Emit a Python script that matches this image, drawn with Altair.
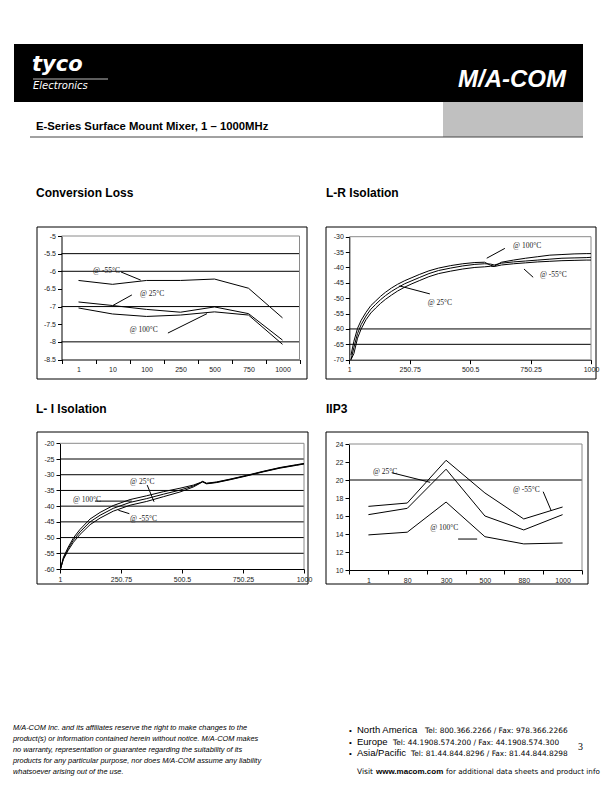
import altair as alt
import pandas as pd

# ---------------- page / canvas ----------------
W, H = 596, 776
OFF = 8


def cx(x):
    return x - OFF


def cy(y):
    return y - OFF


SANS = "Liberation Sans"
SERIF = "Liberation Serif"
WIDE = "DejaVu Sans"
GRAY = "#8a8a8a"

# ---------------- data ----------------
# Conversion Loss (dB) vs frequency category
cl_freq = ["1", "10", "100", "250", "500", "750", "1000"]
cl_m55 = [-6.26, -6.37, -6.26, -6.26, -6.22, -6.48, -7.32]
cl_25 = [-6.87, -6.97, -7.08, -7.16, -7.01, -7.20, -7.95]
cl_100 = [-7.04, -7.21, -7.28, -7.24, -7.15, -7.24, -8.07]
cl_yticks = [-5, -5.5, -6, -6.5, -7, -7.5, -8, -8.5]
cl_grid = [-5.5, -6, -7, -8]

# L-R Isolation (dB) vs frequency (MHz)
lr_x = [8, 20, 35, 50, 70, 90, 110, 130, 150, 175, 200, 230, 260, 290, 330, 370,
        420, 470, 520, 560, 585, 600, 630, 680, 730, 780, 830, 880, 930, 980, 1000]
lr_100 = [-68.5, -64.0, -59.8, -57.2, -54.6, -52.4, -50.9, -49.4, -48.1, -46.7, -45.5,
          -44.3, -43.3, -42.3, -41.1, -40.2, -39.4, -38.8, -38.4, -38.3, -39.3, -39.6,
          -38.3, -37.6, -37.0, -36.5, -36.0, -35.8, -35.6, -35.5, -35.5]
lr_25 = [-70.0, -66.0, -61.5, -58.6, -55.8, -53.6, -52.0, -50.5, -49.2, -47.8, -46.6,
         -45.3, -44.3, -43.3, -42.0, -41.0, -40.2, -39.5, -39.0, -38.8, -38.9, -39.2,
         -38.6, -38.2, -37.9, -37.6, -37.3, -37.0, -36.9, -36.8, -36.7]
lr_m55 = [-70.0, -68.0, -63.0, -60.0, -57.0, -54.8, -53.2, -51.7, -50.4, -49.0, -47.7,
          -46.4, -45.3, -44.3, -43.0, -42.0, -41.2, -40.5, -40.0, -39.8, -39.6, -39.7,
          -39.2, -38.8, -38.5, -38.2, -38.0, -37.8, -37.7, -37.6, -37.6]
lr_yticks = [-30, -35, -40, -45, -50, -55, -60, -65, -70]
lr_grid = [-60, -65]
lr_xticks = [1, 250.75, 500.5, 750.25, 1000]

# L-I Isolation (dB) vs frequency (MHz)
li_x = [3, 15, 35, 56, 83, 124, 165, 219, 288, 356, 424, 492, 547, 575, 585, 601,
        642, 697, 765, 833, 902, 970, 1000]
li_100 = [-60.0, -56.3, -53.0, -50.1, -47.4, -44.1, -42.0, -39.8, -37.9, -36.7, -35.4,
          -34.3, -33.3, -32.5, -32.1, -32.7, -32.3, -31.4, -30.2, -28.9, -27.7, -26.8, -26.4]
li_25 = [-60.0, -56.6, -53.5, -50.8, -48.2, -45.0, -42.9, -40.7, -38.8, -37.6, -36.2,
         -34.9, -33.6, -32.6, -32.2, -32.8, -32.4, -31.5, -30.3, -29.0, -27.8, -26.9, -26.5]
li_m55 = [-60.0, -56.9, -54.0, -51.5, -49.0, -45.9, -43.8, -41.6, -39.7, -38.5, -37.0,
          -35.5, -33.9, -32.7, -32.3, -32.9, -32.5, -31.6, -30.4, -29.1, -27.9, -27.0, -26.6]
li_yticks = [-20, -25, -30, -35, -40, -45, -50, -55, -60]
li_grid = [-25, -30, -35, -40, -45, -50, -55]
li_xticks = [1, 250.75, 500.5, 750.25, 1000]

# IIP3 (dBm) vs frequency category
iip3_freq = ["1", "80", "300", "500", "880", "1000"]
iip3_m55 = [17.07, 17.44, 22.19, 18.56, 15.67, 17.00]
iip3_25 = [16.15, 16.85, 21.20, 16.00, 14.45, 16.15]
iip3_100 = [13.90, 14.20, 17.55, 13.70, 12.90, 13.00]
iip3_yticks = [10, 12, 14, 16, 18, 20, 22, 24]
iip3_grid = [20]

series_names = ["-55°C", "25°C", "100°C"]

# annotations in chart units: (text, x, y) ; leaders: (x1, y1, x2, y2)
# band charts use category-index units (0..n)
cl_notes = [("@ -55°C", 0.93, -5.98), ("@ 25°C", 2.31, -6.64), ("@ 100°C", 2.01, -7.66)]
cl_leaders = [(1.75, -6.02, 2.33, -6.25), (2.07, -6.67, 1.51, -6.97), (3.13, -7.75, 4.28, -7.20)]
lr_notes = [("@ 100°C", 678, -33.0), ("@ -55°C", 789, -42.5), ("@ 25°C", 325, -51.5)]
lr_leaders = [(644, -33.8, 569, -37.0), (723, -40.5, 761, -43.2), (334, -48.6, 208, -46.0)]
li_notes = [("@ 25°C", 288, -32.2), ("@ 100°C", 54, -38.0), ("@ -55°C", 288, -44.1)]
li_leaders = [(358, -33.3, 386, -38.6), (144, -38.4, 295, -38.4), (285, -42.4, 240, -41.3)]
iip3_notes = [("@ 25°C", 0.62, 20.92), ("@ -55°C", 4.22, 18.89), ("@ 100°C", 2.09, 14.67)]
iip3_leaders = [(1.10, 20.81, 2.09, 19.74), (5.00, 18.70, 5.21, 16.56), (2.81, 13.44, 3.30, 13.44)]

# ---------------- helpers ----------------
dummy = pd.DataFrame({"a": [0]})

AX = dict(domainColor="black", tickColor="black", tickSize=4, tickWidth=1, domainWidth=1,
          labelFont=SANS, labelFontSize=7, labelColor="#222222", labelPadding=2,
          grid=False, title="", labelOverlap=False, labelFlush=False)


def txt(s, x, y, size, font=SANS, weight="normal", style="normal", color="black",
        align="left", baseline="alphabetic"):
    return alt.Chart(dummy).mark_text(
        text=s, font=font, fontSize=size, fontWeight=weight, fontStyle=style,
        color=color, align=align, baseline=baseline
    ).encode(x=alt.value(cx(x)), y=alt.value(cy(y)))


def rect(x0, y0, x1, y1, fill=None, stroke=None):
    kw = {}
    if fill is not None:
        kw["fill"] = fill
    else:
        kw["fillOpacity"] = 0
    if stroke is not None:
        kw["stroke"] = stroke
        kw["strokeWidth"] = 1
    return alt.Chart(dummy).mark_rect(**kw).encode(
        x=alt.value(cx(x0)), x2=alt.value(cx(x1)), y=alt.value(cy(y0)), y2=alt.value(cy(y1)))


def hline(x0, x1, y, color="black", w=1):
    return alt.Chart(dummy).mark_rule(color=color, strokeWidth=w).encode(
        x=alt.value(cx(x0)), x2=alt.value(cx(x1)), y=alt.value(cy(y)))


def vline(x, y0, y1, color="black", w=1):
    return alt.Chart(dummy).mark_rule(color=color, strokeWidth=w).encode(
        x=alt.value(cx(x)), y=alt.value(cy(y0)), y2=alt.value(cy(y1)))


def long_df(xs, ys_list):
    rows = []
    for name, ys in zip(series_names, ys_list):
        for xv, yv in zip(xs, ys):
            rows.append({"x": xv, "v": yv, "s": name})
    return pd.DataFrame(rows)


def panel(title, tpos, frame, plot, xkind, xinfo, ys_list, ydom, yticks, grid, notes, leaders):
    x0, ytop, x1, ybot = plot
    layers = []
    layers.append(txt(title, tpos[0], tpos[1], 12, weight="bold"))
    layers.append(rect(*frame, stroke="black"))
    ys = alt.Scale(domain=ydom, range=[cy(ybot), cy(ytop)], nice=False, zero=False)
    yaxis = alt.Axis(orient="left", offset=-cx(x0), values=yticks,
                     labelExpr="'' + datum.value", **AX)
    xoff = cy(ybot) - H
    if xkind == "band":
        cats = xinfo
        n = len(cats)
        xs = alt.Scale(type="band", domain=cats, range=[cx(x0), cx(x1)],
                       paddingInner=0, paddingOuter=0)
        xaxis = alt.Axis(orient="bottom", offset=xoff, tickBand="extent", labelAngle=0, **AX)
        xenc = alt.X("x:N", scale=xs, axis=xaxis, bandPosition=0.5)
        qs = alt.Scale(domain=[0, n], range=[cx(x0), cx(x1)], nice=False, zero=False)
        df = long_df(cats, ys_list)
    else:
        xvals, xticks = xinfo
        xs = alt.Scale(domain=[1, 1000], range=[cx(x0), cx(x1)], nice=False, zero=False)
        xaxis = alt.Axis(orient="bottom", offset=xoff, values=xticks,
                         labelExpr="'' + datum.value", **AX)
        xenc = alt.X("x:Q", scale=xs, axis=xaxis)
        qs = xs
        df = long_df(xvals, ys_list)

    # gridlines
    layers.append(alt.Chart(pd.DataFrame({"g": grid})).mark_rule(color="black", strokeWidth=1).encode(
        y=alt.Y("g:Q", scale=ys, axis=None), x=alt.value(cx(x0)), x2=alt.value(cx(x1))))
    # plot-area border (top / right)
    layers.append(hline(x0, x1, ytop, color=GRAY))
    layers.append(vline(x1, ytop, ybot, color=GRAY))
    # data lines
    layers.append(alt.Chart(df).mark_line(color="black", strokeWidth=1).encode(
        x=xenc, y=alt.Y("v:Q", scale=ys, axis=yaxis), detail="s:N"))
    # annotation text
    ndf = pd.DataFrame({"t": [t for t, _, _ in notes], "nx": [a for _, a, _ in notes],
                        "ny": [b for _, _, b in notes]})
    layers.append(alt.Chart(ndf).mark_text(font=SERIF, fontSize=7.5, align="left",
                                           baseline="middle", color="#222222").encode(
        x=alt.X("nx:Q", scale=qs, axis=None), y=alt.Y("ny:Q", scale=ys, axis=None), text="t:N"))
    ldf = pd.DataFrame({"a": [l[0] for l in leaders], "b": [l[1] for l in leaders],
                        "c": [l[2] for l in leaders], "d": [l[3] for l in leaders]})
    layers.append(alt.Chart(ldf).mark_rule(color="black", strokeWidth=1).encode(
        x=alt.X("a:Q", scale=qs, axis=None), y=alt.Y("b:Q", scale=ys, axis=None),
        x2="c:Q", y2="d:Q"))
    return layers


layers = []

# ---------------- header ----------------
layers.append(rect(14, 44, 583, 102, fill="black"))
layers.append(txt("tyco", 32, 71, 21, font=WIDE, weight="bold", style="italic", color="white"))
layers.append(hline(33, 108, 79, color="#bbbbbb"))
layers.append(txt("Electronics", 33, 89, 10, font=WIDE, style="italic", color="white"))
layers.append(txt("M/A-COM", 458, 87, 24, weight="bold", style="italic", color="white"))
layers.append(rect(443, 102, 583, 137, fill="#c0c0c0"))
layers.append(txt("E-Series Surface Mount Mixer, 1 \u2013 1000MHz", 36, 130, 11.3, weight="bold"))
layers.append(hline(30, 583, 137, color="#444444"))

# ---------------- panels ----------------
layers += panel("Conversion Loss", (36, 197), (37, 227, 307, 379), (61.5, 236, 299.5, 359.5),
                "band", cl_freq, [cl_m55, cl_25, cl_100], [-8.5, -5], cl_yticks, cl_grid,
                cl_notes, cl_leaders)
layers += panel("L-R Isolation", (326, 197), (326, 227, 596, 379), (349.3, 236.7, 591, 359.7),
                "quant", (lr_x, lr_xticks), [lr_m55, lr_25, lr_100], [-70, -30], lr_yticks, lr_grid,
                lr_notes, lr_leaders)
layers += panel("L- I Isolation", (36, 413), (37, 432, 308, 584), (60, 443.3, 304, 569),
                "quant", (li_x, li_xticks), [li_m55, li_25, li_100], [-60, -20], li_yticks, li_grid,
                li_notes, li_leaders)
layers += panel("IIP3", (326, 413), (326, 432, 588, 584), (349, 444, 582, 570),
                "band", iip3_freq, [iip3_m55, iip3_25, iip3_100], [10, 24], iip3_yticks, iip3_grid,
                iip3_notes, iip3_leaders)

# ---------------- footer ----------------
disclaimer = [
    "M/A-COM Inc. and its affiliates reserve the right to make changes to the",
    "product(s) or information contained herein without notice. M/A-COM makes",
    "no warranty, representation or guarantee regarding the suitability of its",
    "products for any particular purpose, nor does M/A-COM assume any liability",
    "whatsoever arising out of the use.",
]
for i, line in enumerate(disclaimer):
    layers.append(txt(line, 13, 730 + 11 * i, 7.4, font=SANS, style="italic"))

contacts = [
    ("North America", "Tel: 800.366.2266 / Fax: 978.366.2266", 425),
    ("Europe", "Tel: 44.1908.574.200 / Fax: 44.1908.574.300", 393),
    ("Asia/Pacific", "Tel: 81.44.844.8296 / Fax: 81.44.844.8298", 411),
]
for i, (region, tel, tx) in enumerate(contacts):
    yb = 733 + 11.5 * i
    layers.append(txt("\u2022", 349, yb, 8))
    layers.append(txt(region, 357, yb, 9.5))
    layers.append(txt(tel, tx, yb, 7.4, font=WIDE))
layers.append(txt("3", 578, 750, 10, font=SERIF))
layers.append(txt("Visit", 357, 774, 7.5, font=WIDE))
layers.append(txt("www.macom.com", 376, 774, 8, weight="bold"))
layers.append(txt("for additional data sheets and product info", 446, 774, 7.2, font=WIDE))

chart = alt.layer(*layers).resolve_scale(x="independent", y="independent").properties(
    width=W, height=H, padding=0, autosize=alt.AutoSizeParams(type="none"),
    background="white"
).configure_view(stroke="transparent")

chart.save("out.html", embed_options={"renderer": "svg", "actions": False})
